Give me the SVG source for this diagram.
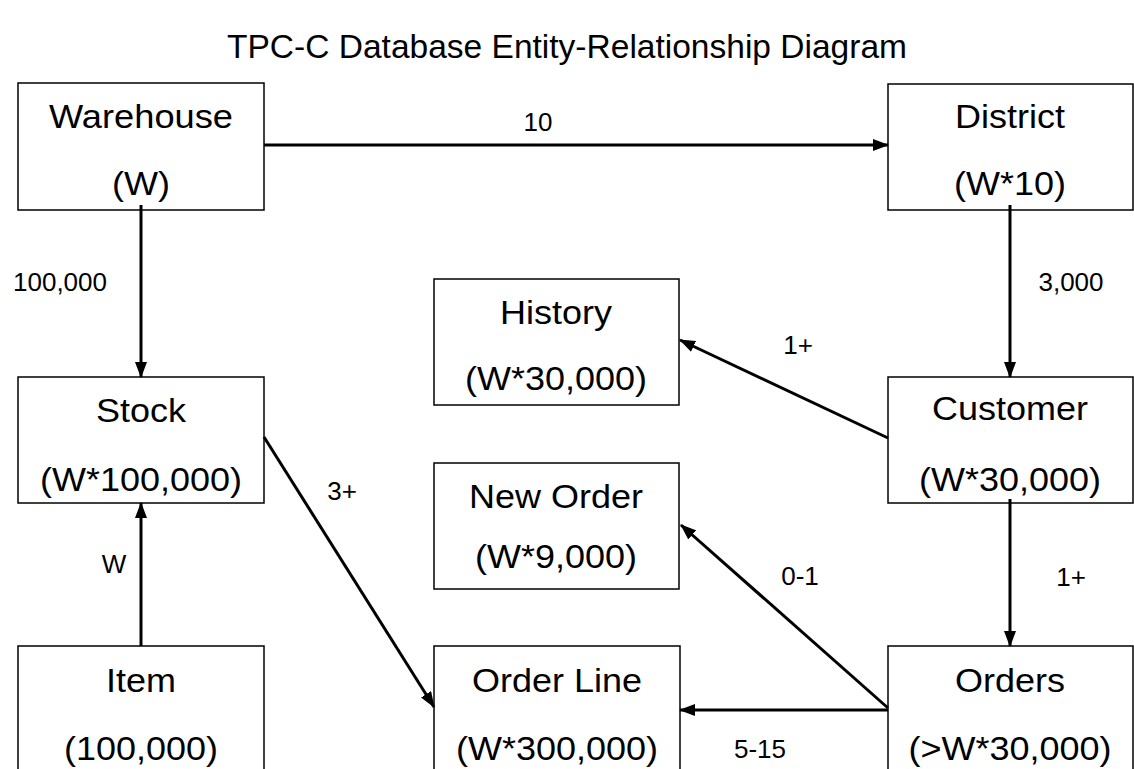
<svg xmlns="http://www.w3.org/2000/svg" width="1134" height="769" viewBox="0 0 1134 769">
<style>
.box{fill:#fff;stroke:#000;stroke-width:1.5}
.nt{font-family:"Liberation Sans",Arial,sans-serif;font-size:34px;text-anchor:middle;fill:#000}
.lb{font-family:"Liberation Sans",Arial,sans-serif;font-size:26px;text-anchor:middle;fill:#000}
.title{font-family:"Liberation Sans",Arial,sans-serif;font-size:33px;text-anchor:middle;fill:#000}
.cn{stroke:#000;stroke-width:3;fill:none;marker-end:url(#ah)}
</style>
<defs>
<marker id="ah" markerUnits="userSpaceOnUse" markerWidth="16" markerHeight="12" refX="15" refY="6" orient="auto">
<path d="M0,0 L16,6 L0,12 z" fill="#000"/>
</marker>
</defs>
<rect width="1134" height="769" fill="#fff"/>
<text class="title" x="567" y="58" textLength="680" lengthAdjust="spacingAndGlyphs">TPC-C Database Entity-Relationship Diagram</text>

<g id="warehouse"><rect class="box" x="18" y="83" width="246" height="127"/>
<text class="nt" x="141" y="128" textLength="184" lengthAdjust="spacingAndGlyphs">Warehouse</text>
<text class="nt" x="141" y="195" textLength="58" lengthAdjust="spacingAndGlyphs">(W)</text></g>

<g id="district"><rect class="box" x="888" y="84" width="245" height="126"/>
<text class="nt" x="1010" y="128" textLength="110" lengthAdjust="spacingAndGlyphs">District</text>
<text class="nt" x="1010" y="195" textLength="112" lengthAdjust="spacingAndGlyphs">(W*10)</text></g>

<g id="history"><rect class="box" x="434" y="279" width="245" height="126"/>
<text class="nt" x="556" y="324" textLength="112" lengthAdjust="spacingAndGlyphs">History</text>
<text class="nt" x="556" y="390" textLength="182" lengthAdjust="spacingAndGlyphs">(W*30,000)</text></g>

<g id="stock"><rect class="box" x="18" y="377" width="246" height="126"/>
<text class="nt" x="141" y="422" textLength="90" lengthAdjust="spacingAndGlyphs">Stock</text>
<text class="nt" x="141" y="491" textLength="202" lengthAdjust="spacingAndGlyphs">(W*100,000)</text></g>

<g id="customer"><rect class="box" x="888" y="377" width="245" height="126"/>
<text class="nt" x="1010" y="420" textLength="156" lengthAdjust="spacingAndGlyphs">Customer</text>
<text class="nt" x="1010" y="491" textLength="182" lengthAdjust="spacingAndGlyphs">(W*30,000)</text></g>

<g id="neworder"><rect class="box" x="434" y="463" width="245" height="126"/>
<text class="nt" x="556" y="508" textLength="174" lengthAdjust="spacingAndGlyphs">New Order</text>
<text class="nt" x="556" y="568" textLength="162" lengthAdjust="spacingAndGlyphs">(W*9,000)</text></g>

<g id="item"><rect class="box" x="18" y="646" width="246" height="130"/>
<text class="nt" x="141" y="692" textLength="70" lengthAdjust="spacingAndGlyphs">Item</text>
<text class="nt" x="141" y="760" textLength="154" lengthAdjust="spacingAndGlyphs">(100,000)</text></g>

<g id="orderline"><rect class="box" x="434" y="646" width="246" height="130"/>
<text class="nt" x="557" y="692" textLength="170" lengthAdjust="spacingAndGlyphs">Order Line</text>
<text class="nt" x="557" y="760" textLength="202" lengthAdjust="spacingAndGlyphs">(W*300,000)</text></g>

<g id="orders"><rect class="box" x="888" y="646" width="245" height="130"/>
<text class="nt" x="1010" y="692" textLength="110" lengthAdjust="spacingAndGlyphs">Orders</text>
<text class="nt" x="1010" y="760" textLength="203" lengthAdjust="spacingAndGlyphs">(&gt;W*30,000)</text></g>

<g id="connectors">
<line class="cn" x1="264" y1="145" x2="888" y2="145"/>
<line class="cn" x1="141" y1="205" x2="141" y2="377"/>
<line class="cn" x1="1010" y1="205" x2="1010" y2="377"/>
<line class="cn" x1="888" y1="438" x2="680" y2="340"/>
<line class="cn" x1="264" y1="437" x2="434" y2="707"/>
<line class="cn" x1="141" y1="646" x2="141" y2="503"/>
<line class="cn" x1="1010" y1="499" x2="1010" y2="646"/>
<line class="cn" x1="888" y1="708" x2="681" y2="525"/>
<line class="cn" x1="888" y1="710" x2="680" y2="710"/>
<text class="lb" x="538" y="131">10</text>
<text class="lb" x="60" y="291">100,000</text>
<text class="lb" x="1071" y="291">3,000</text>
<text class="lb" x="798" y="354">1+</text>
<text class="lb" x="342" y="500">3+</text>
<text class="lb" x="114" y="573">W</text>
<text class="lb" x="800" y="585">0-1</text>
<text class="lb" x="1071" y="586">1+</text>
<text class="lb" x="760" y="758">5-15</text>
</g>
</svg>
